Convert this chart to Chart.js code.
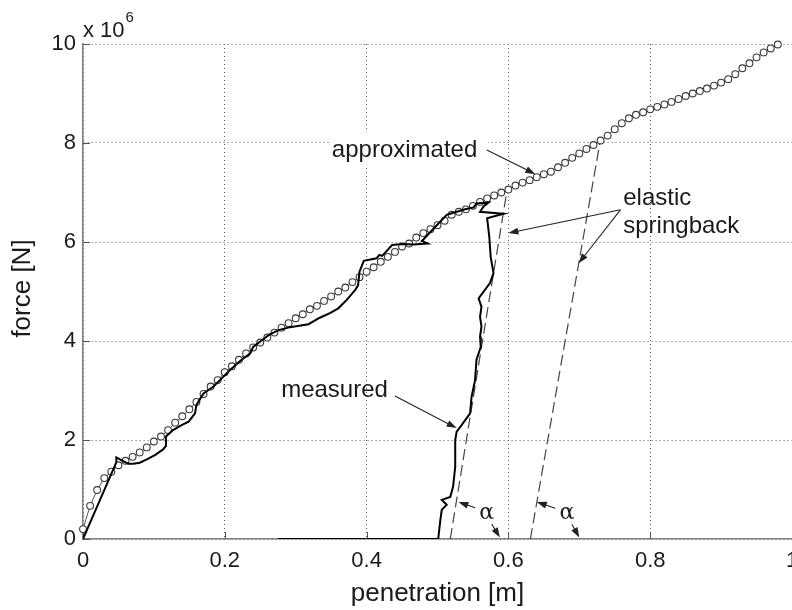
<!DOCTYPE html>
<html>
<head>
<meta charset="utf-8">
<script src="https://cdn.jsdelivr.net/npm/chart.js@4.4.0/dist/chart.umd.min.js"></script>
<style>
  html, body { margin: 0; padding: 0; background: #ffffff; }
  #wrap { width: 792px; height: 610px; position: relative; overflow: hidden; }
  canvas { display: block; }
</style>
</head>
<body>
<div id="wrap"><canvas id="chart" width="792" height="610"></canvas></div>
<script>
// Penetration [m] of the approximated (fitted) force curve
const approxPenetration = [
  0.00, 0.01, 0.02, 0.03, 0.04, 0.05, 0.06, 0.07, 0.08, 0.09,
  0.10, 0.11, 0.12, 0.13, 0.14, 0.15, 0.16, 0.17, 0.18, 0.19,
  0.20, 0.21, 0.22, 0.23, 0.24, 0.25, 0.26, 0.27, 0.28, 0.29,
  0.30, 0.31, 0.32, 0.33, 0.34, 0.35, 0.36, 0.37, 0.38, 0.39,
  0.40, 0.41, 0.42, 0.43, 0.44, 0.45, 0.46, 0.47, 0.48, 0.49,
  0.50, 0.51, 0.52, 0.53, 0.54, 0.55, 0.56, 0.57, 0.58, 0.59,
  0.60, 0.61, 0.62, 0.63, 0.64, 0.65, 0.66, 0.67, 0.68, 0.69,
  0.70, 0.71, 0.72, 0.73, 0.74, 0.75, 0.76, 0.77, 0.78, 0.79,
  0.80, 0.81, 0.82, 0.83, 0.84, 0.85, 0.86, 0.87, 0.88, 0.89,
  0.90, 0.91, 0.92, 0.93, 0.94, 0.95, 0.96, 0.97, 0.98
];
// Force [x 10^6 N] of the approximated curve
const approxForce = [
  0.20, 0.67, 0.99, 1.23, 1.36, 1.49, 1.58, 1.66, 1.75, 1.85,
  1.97, 2.07, 2.20, 2.35, 2.48, 2.62, 2.77, 2.93, 3.08, 3.21,
  3.37, 3.49, 3.62, 3.75, 3.87, 3.97, 4.07, 4.17, 4.27, 4.36,
  4.46, 4.54, 4.64, 4.71, 4.81, 4.90, 5.00, 5.08, 5.19, 5.29,
  5.40, 5.49, 5.60, 5.70, 5.80, 5.91, 5.97, 6.09, 6.18, 6.26,
  6.34, 6.43, 6.55, 6.61, 6.66, 6.73, 6.81, 6.88, 6.94, 7.00,
  7.06, 7.14, 7.20, 7.25, 7.31, 7.37, 7.42, 7.51, 7.60, 7.70,
  7.79, 7.88, 7.96, 8.05, 8.15, 8.28, 8.40, 8.50, 8.57, 8.62,
  8.68, 8.73, 8.78, 8.83, 8.89, 8.95, 9.00, 9.05, 9.10, 9.16,
  9.22, 9.29, 9.39, 9.51, 9.61, 9.73, 9.83, 9.91, 9.99
];

// Measured force-penetration record (loading, then unloading to zero)
const measuredPenetration = [
  0.000, 0.047, 0.047, 0.056, 0.064, 0.071, 0.080, 0.090, 0.102, 0.113,
  0.117, 0.117, 0.127, 0.139, 0.149, 0.158, 0.160, 0.170, 0.184, 0.196,
  0.207, 0.222, 0.236, 0.240, 0.264, 0.276, 0.292, 0.318, 0.334, 0.349,
  0.360, 0.372, 0.384, 0.388, 0.390, 0.396, 0.414, 0.418, 0.422, 0.436,
  0.451, 0.466, 0.486, 0.478, 0.513, 0.539, 0.551, 0.555, 0.572, 0.565,
  0.560, 0.593, 0.570, 0.573, 0.575, 0.579, 0.574, 0.558, 0.562, 0.560,
  0.562, 0.560, 0.561, 0.555, 0.553, 0.548, 0.546, 0.534, 0.527, 0.525,
  0.525, 0.522, 0.518, 0.506, 0.513, 0.506, 0.504, 0.501, 0.275
];
const measuredForce = [
  0.00, 1.55, 1.65, 1.58, 1.52, 1.52, 1.54, 1.61, 1.70, 1.81,
  1.88, 2.07, 2.20, 2.30, 2.37, 2.54, 2.71, 2.94, 3.08, 3.25,
  3.41, 3.60, 3.75, 3.88, 4.14, 4.22, 4.28, 4.34, 4.47, 4.57,
  4.66, 4.83, 5.03, 5.13, 5.40, 5.62, 5.67, 5.74, 5.72, 5.94,
  5.96, 5.95, 5.97, 6.02, 6.55, 6.66, 6.70, 6.78, 6.80, 6.72,
  6.61, 6.57, 6.48, 6.11, 5.70, 5.37, 5.17, 4.86, 4.69, 4.49,
  4.29, 4.09, 3.88, 3.62, 3.21, 2.87, 2.54, 2.30, 2.17, 2.00,
  1.46, 1.06, 0.85, 0.79, 0.69, 0.59, 0.38, 0.00, 0.00
];

// Elastic springback lines (unloading slope alpha)
const springbackAPenetration = [0.518, 0.598];
const springbackAForce = [0.00, 7.04];
const springbackBPenetration = [0.631, 0.729];
const springbackBForce = [0.00, 8.00];

// Axis ticks
const penetrationTicks = [0, 0.2, 0.4, 0.6, 0.8, 1];
const forceTicks = [0, 2, 4, 6, 8, 10];

// Annotation texts and their anchors (data units)
const noteTexts = ['approximated', 'elastic', 'springback', 'measured', '\u03b1', '\u03b1'];
const noteX = [0.351, 0.762, 0.762, 0.430, 0.5695, 0.6824];
const noteY = [7.86, 6.89, 6.32, 3.01, 0.52, 0.52];
const noteAlign = ['left', 'left', 'left', 'right', 'center', 'center'];

// Leader arrows: tail (x0,y0) -> head (x1,y1), data units
const arrowX0 = [0.5695, 0.758, 0.758, 0.440, 0.553, 0.5766, 0.666, 0.6895];
const arrowY0 = [7.86, 6.65, 6.65, 2.89, 0.63, 0.30, 0.62, 0.30];
const arrowX1 = [0.638, 0.600, 0.699, 0.527, 0.5295, 0.588, 0.640, 0.700];
const arrowY1 = [7.37, 6.18, 5.57, 2.24, 0.75, 0.03, 0.75, 0.03];

const toPoints = (xs, ys) => xs.map((x, i) => ({ x: x, y: ys[i] }));

const FONT = "'Liberation Sans', Arial, Helvetica, sans-serif";
const INK = '#1a1a1a';

function arrow(ctx, x0, y0, x1, y1) {
  const ang = Math.atan2(y1 - y0, x1 - x0);
  const len = 10, half = 3.5;
  ctx.beginPath();
  ctx.moveTo(x0, y0);
  ctx.lineTo(x1 - Math.cos(ang) * len * 0.8, y1 - Math.sin(ang) * len * 0.8);
  ctx.stroke();
  ctx.beginPath();
  ctx.moveTo(x1, y1);
  ctx.lineTo(x1 - Math.cos(ang) * len + Math.sin(ang) * half,
             y1 - Math.sin(ang) * len - Math.cos(ang) * half);
  ctx.lineTo(x1 - Math.cos(ang) * len - Math.sin(ang) * half,
             y1 - Math.sin(ang) * len + Math.cos(ang) * half);
  ctx.closePath();
  ctx.fill();
}

const decorations = {
  id: 'decorations',
  beforeDatasetsDraw(chart) {
    const { ctx, chartArea: a, scales: { x, y } } = chart;
    ctx.save();
    // inward tick marks
    ctx.strokeStyle = '#555';
    ctx.lineWidth = 1;
    penetrationTicks.forEach(v => {
      const px = Math.round(x.getPixelForValue(v)) + 0.5;
      ctx.beginPath(); ctx.moveTo(px, a.bottom); ctx.lineTo(px, a.bottom - 7); ctx.stroke();
    });
    forceTicks.forEach(v => {
      const py = Math.round(y.getPixelForValue(v)) + 0.5;
      ctx.beginPath(); ctx.moveTo(a.left, py); ctx.lineTo(a.left + 7, py); ctx.stroke();
    });
    // white box behind the "approximated" label
    ctx.fillStyle = '#ffffff';
    const bx0 = x.getPixelForValue(0.3484), bx1 = x.getPixelForValue(0.5716);
    const by0 = y.getPixelForValue(8.22), by1 = y.getPixelForValue(7.56);
    ctx.fillRect(bx0, by0, bx1 - bx0, by1 - by0);
    ctx.restore();
  },
  afterDatasetsDraw(chart) {
    const { ctx, chartArea: a, scales: { x, y } } = chart;
    ctx.save();
    // annotation texts
    ctx.fillStyle = INK;
    ctx.textBaseline = 'middle';
    noteTexts.forEach((t, i) => {
      const greek = t === '\u03b1';
      ctx.font = greek ? "22px 'DejaVu Serif', 'Liberation Serif', serif" : '24px ' + FONT;
      ctx.textAlign = noteAlign[i];
      ctx.fillText(t, x.getPixelForValue(noteX[i]), y.getPixelForValue(noteY[i]));
    });
    // leader arrows
    ctx.strokeStyle = '#222';
    ctx.fillStyle = '#222';
    ctx.lineWidth = 1.1;
    arrowX0.forEach((v, i) => {
      arrow(ctx, x.getPixelForValue(v), y.getPixelForValue(arrowY0[i]),
                 x.getPixelForValue(arrowX1[i]), y.getPixelForValue(arrowY1[i]));
    });
    // axis titles and exponent
    ctx.fillStyle = INK;
    ctx.font = '26px ' + FONT;
    ctx.textAlign = 'center';
    ctx.textBaseline = 'middle';
    ctx.fillText('penetration [m]', (a.left + a.right) / 2, 594);
    ctx.save();
    ctx.translate(23, (a.top + a.bottom) / 2 - 3);
    ctx.rotate(-Math.PI / 2);
    ctx.fillText('force [N]', 0, 0);
    ctx.restore();
    ctx.textAlign = 'left';
    ctx.textBaseline = 'alphabetic';
    ctx.font = '22px ' + FONT;
    ctx.fillText('x 10', a.left, a.top - 7);
    const w = ctx.measureText('x 10').width;
    ctx.font = '15px ' + FONT;
    ctx.fillText('6', a.left + w + 1, a.top - 22);
    ctx.restore();
  }
};

new Chart(document.getElementById('chart'), {
  type: 'scatter',
  data: {
    datasets: [
      {
        label: 'measured',
        data: toPoints(measuredPenetration, measuredForce),
        showLine: true,
        borderColor: '#000000',
        borderWidth: 2,
        pointRadius: 0,
        tension: 0
      },
      {
        label: 'approximated',
        data: toPoints(approxPenetration, approxForce),
        showLine: true,
        borderColor: '#555555',
        borderWidth: 1,
        pointRadius: 3.4,
        pointBorderWidth: 1.1,
        pointBorderColor: '#3a3a3a',
        pointBackgroundColor: '#ffffff',
        tension: 0,
        clip: 8
      },
      {
        label: 'elastic springback A',
        data: toPoints(springbackAPenetration, springbackAForce),
        showLine: true,
        borderColor: '#444444',
        borderWidth: 1.2,
        borderDash: [11, 5],
        pointRadius: 0
      },
      {
        label: 'elastic springback B',
        data: toPoints(springbackBPenetration, springbackBForce),
        showLine: true,
        borderColor: '#444444',
        borderWidth: 1.2,
        borderDash: [11, 5],
        pointRadius: 0
      }
    ]
  },
  options: {
    responsive: false,
    animation: false,
    events: [],
    layout: { autoPadding: false, padding: { top: 44, right: 0, left: 0, bottom: 0 } },
    plugins: { legend: { display: false }, tooltip: { enabled: false } },
    scales: {
      x: {
        type: 'linear',
        min: 0, max: 1,
        afterBuildTicks: s => { s.ticks = penetrationTicks.map(v => ({ value: v })); },
        afterFit: s => { s.height = 71; s.paddingLeft = 0; s.paddingRight = 0; },
        ticks: {
          padding: 9,
          color: INK,
          font: { family: FONT, size: 22 },
          maxRotation: 0,
          autoSkip: false,
          callback: v => String(v)
        },
        grid: { color: '#5a5a5a', lineWidth: 1, drawTicks: false },
        border: { display: true, color: '#808080', width: 1.6, dash: [1, 3] }
      },
      y: {
        type: 'linear',
        min: 0, max: 10,
        afterBuildTicks: s => { s.ticks = forceTicks.map(v => ({ value: v })); },
        afterFit: s => { s.width = 83; s.paddingTop = 0; s.paddingBottom = 0; },
        ticks: {
          padding: 7,
          color: INK,
          font: { family: FONT, size: 22 },
          autoSkip: false,
          callback: v => String(v)
        },
        grid: { color: '#5a5a5a', lineWidth: 1, drawTicks: false },
        border: { display: true, color: '#808080', width: 1.6, dash: [1, 3] }
      }
    }
  },
  plugins: [decorations]
});
</script>
</body>
</html>
